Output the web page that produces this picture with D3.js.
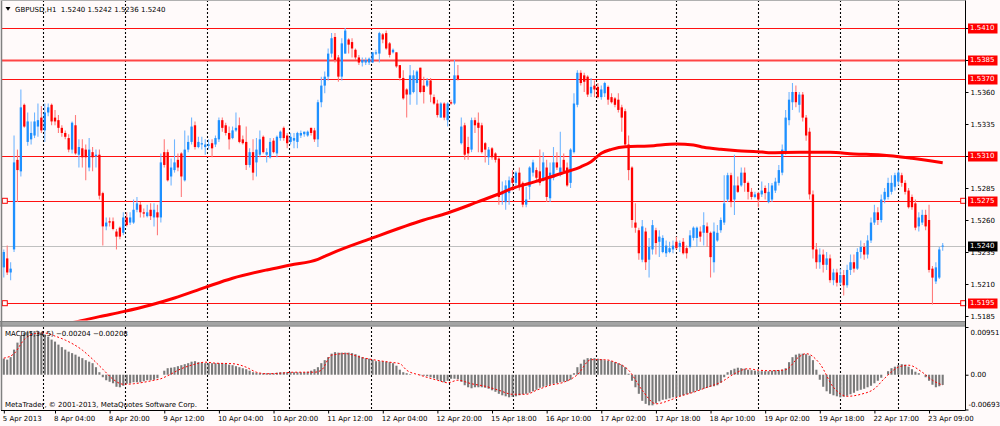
<!DOCTYPE html>
<html><head><meta charset="utf-8">
<script src="https://cdn.jsdelivr.net/npm/d3@7/dist/d3.min.js"></script>
<style>
html,body{margin:0;padding:0;background:#fffafa;}
svg{display:block;}
text{font-family:"DejaVu Sans",Verdana,sans-serif;font-size:7px;fill:#000;}
</style></head><body>
<svg id="chart" width="1000" height="426"></svg>
<script>
// ---------------- DATA ----------------
const symbolName = "GBPUSD,H1";
const indicatorName = "MACD(5,34,5)";
const copyright = "MetaTrader, \u00a9 2001-2013, MetaQuotes Software Corp.";

const opens = [1.5223,1.5230,1.5219,1.5237,1.5307,1.5298,1.5350,1.5321,1.5323,1.5326,
1.5333,1.5340,1.5330,1.5344,1.5350,1.5340,1.5338,1.5332,1.5328,1.5324,
1.5315,1.5334,1.5311,1.5316,1.5315,1.5301,1.5313,1.5310,1.5311,1.5281,
1.5255,1.5259,1.5259,1.5251,1.5254,1.5250,1.5262,1.5258,1.5258,1.5268,
1.5272,1.5266,1.5263,1.5268,1.5262,1.5266,1.5262,1.5313,1.5313,1.5294,
1.5299,1.5307,1.5312,1.5291,1.5315,1.5321,1.5334,1.5317,1.5319,1.5317,
1.5318,1.5320,1.5319,1.5323,1.5338,1.5334,1.5328,1.5324,1.5330,1.5334,
1.5323,1.5321,1.5303,1.5313,1.5305,1.5311,1.5325,1.5311,1.5309,1.5322,
1.5312,1.5324,1.5332,1.5326,1.5321,1.5322,1.5321,1.5326,1.5327,1.5326,
1.5332,1.5330,1.5323,1.5352,1.5365,1.5372,1.5390,1.5403,1.5387,1.5372,
1.5390,1.5401,1.5399,1.5393,1.5387,1.5383,1.5383,1.5383,1.5383,1.5390,
1.5390,1.5405,1.5406,1.5398,1.5391,1.5391,1.5381,1.5371,1.5362,1.5358,
1.5360,1.5367,1.5379,1.5365,1.5365,1.5369,1.5356,1.5351,1.5340,1.5351,
1.5338,1.5352,1.5351,1.5373,1.5320,1.5334,1.5317,1.5315,1.5338,1.5336,
1.5334,1.5320,1.5309,1.5316,1.5312,1.5308,1.5280,1.5274,1.5281,1.5293,
1.5289,1.5297,1.5289,1.5272,1.5286,1.5297,1.5299,1.5298,1.5291,1.5301,
1.5277,1.5293,1.5305,1.5297,1.5307,1.5301,1.5289,1.5313,1.5350,1.5375,
1.5373,1.5372,1.5359,1.5365,1.5364,1.5356,1.5359,1.5364,1.5356,1.5355,
1.5354,1.5348,1.5345,1.5319,1.5301,1.5258,1.5252,1.5229,1.5251,1.5229,
1.5237,1.5252,1.5243,1.5235,1.5234,1.5235,1.5237,1.5243,1.5239,1.5243,
1.5238,1.5239,1.5246,1.5246,1.5251,1.5250,1.5255,1.5250,1.5227,1.5244,
1.5252,1.5258,1.5276,1.5295,1.5276,1.5287,1.5287,1.5297,1.5289,1.5282,
1.5278,1.5281,1.5280,1.5285,1.5274,1.5276,1.5283,1.5289,1.5297,1.5313,
1.5338,1.5352,1.5360,1.5350,1.5358,1.5340,1.5329,1.5280,1.5237,1.5227,
1.5233,1.5225,1.5230,1.5213,1.5219,1.5211,1.5217,1.5209,1.5221,1.5227,
1.5222,1.5235,1.5239,1.5233,1.5244,1.5258,1.5266,1.5260,1.5276,1.5278,
1.5282,1.5286,1.5290,1.5295,1.5289,1.5283,1.5278,1.5273,1.5255,1.5258,
1.5264,1.5260,1.5222,1.5212,1.5215,1.5240];

const highs = [1.5237,1.5240,1.5227,1.5326,1.5315,1.5362,1.5351,1.5344,1.5337,1.5344,
1.5351,1.5349,1.5351,1.5351,1.5351,1.5346,1.5342,1.5334,1.5330,1.5327,
1.5337,1.5342,1.5323,1.5323,1.5319,1.5324,1.5317,1.5315,1.5315,1.5282,
1.5262,1.5262,1.5262,1.5253,1.5255,1.5266,1.5266,1.5266,1.5276,1.5278,
1.5274,1.5269,1.5272,1.5273,1.5273,1.5272,1.5312,1.5323,1.5315,1.5308,
1.5323,1.5312,1.5313,1.5330,1.5326,1.5340,1.5337,1.5325,1.5325,1.5323,
1.5323,1.5323,1.5326,1.5340,1.5340,1.5336,1.5333,1.5333,1.5344,1.5340,
1.5326,1.5333,1.5316,1.5323,1.5324,1.5330,1.5326,1.5316,1.5324,1.5324,
1.5326,1.5330,1.5333,1.5328,1.5328,1.5328,1.5329,1.5330,1.5329,1.5330,
1.5332,1.5332,1.5354,1.5372,1.5376,1.5394,1.5406,1.5406,1.5389,1.5402,
1.5410,1.5402,1.5402,1.5394,1.5389,1.5387,1.5387,1.5387,1.5391,1.5393,
1.5407,1.5406,1.5408,1.5399,1.5394,1.5391,1.5381,1.5377,1.5363,1.5381,
1.5377,1.5377,1.5379,1.5372,1.5371,1.5371,1.5358,1.5354,1.5352,1.5352,
1.5352,1.5354,1.5385,1.5381,1.5340,1.5336,1.5325,1.5340,1.5340,1.5344,
1.5336,1.5321,1.5317,1.5317,1.5313,1.5309,1.5290,1.5291,1.5294,1.5299,
1.5298,1.5301,1.5290,1.5286,1.5302,1.5307,1.5301,1.5315,1.5313,1.5307,
1.5305,1.5317,1.5313,1.5329,1.5312,1.5305,1.5316,1.5359,1.5377,1.5377,
1.5375,1.5373,1.5371,1.5369,1.5367,1.5365,1.5368,1.5365,1.5359,1.5356,
1.5359,1.5350,1.5347,1.5326,1.5302,1.5273,1.5254,1.5260,1.5254,1.5246,
1.5260,1.5254,1.5252,1.5248,1.5244,1.5243,1.5244,1.5247,1.5244,1.5246,
1.5240,1.5252,1.5255,1.5255,1.5255,1.5266,1.5258,1.5251,1.5258,1.5256,
1.5262,1.5295,1.5297,1.5297,1.5311,1.5294,1.5301,1.5301,1.5290,1.5285,
1.5282,1.5282,1.5290,1.5287,1.5289,1.5289,1.5293,1.5303,1.5319,1.5346,
1.5360,1.5367,1.5365,1.5360,1.5360,1.5342,1.5332,1.5283,1.5242,1.5238,
1.5237,1.5235,1.5233,1.5222,1.5222,1.5222,1.5221,1.5225,1.5233,1.5233,
1.5238,1.5244,1.5242,1.5248,1.5262,1.5272,1.5270,1.5280,1.5285,1.5293,
1.5295,1.5297,1.5299,1.5297,1.5291,1.5285,1.5280,1.5276,1.5266,1.5268,
1.5268,1.5272,1.5224,1.5227,1.5239,1.5242];

const lows = [1.5215,1.5217,1.5213,1.5235,1.5274,1.5294,1.5332,1.5318,1.5319,1.5324,
1.5325,1.5328,1.5321,1.5341,1.5334,1.5334,1.5328,1.5325,1.5323,1.5313,
1.5312,1.5311,1.5301,1.5301,1.5291,1.5298,1.5298,1.5301,1.5276,1.5240,
1.5252,1.5255,1.5252,1.5237,1.5245,1.5248,1.5255,1.5256,1.5257,1.5266,
1.5262,1.5262,1.5262,1.5260,1.5255,1.5248,1.5258,1.5301,1.5290,1.5287,
1.5297,1.5298,1.5278,1.5290,1.5313,1.5319,1.5315,1.5316,1.5315,1.5311,
1.5315,1.5309,1.5317,1.5321,1.5329,1.5326,1.5315,1.5323,1.5329,1.5320,
1.5319,1.5299,1.5301,1.5291,1.5294,1.5309,1.5312,1.5305,1.5308,1.5312,
1.5309,1.5322,1.5322,1.5316,1.5319,1.5316,1.5316,1.5324,1.5325,1.5325,
1.5326,1.5321,1.5317,1.5348,1.5359,1.5369,1.5387,1.5383,1.5368,1.5369,
1.5390,1.5390,1.5387,1.5385,1.5381,1.5380,1.5381,1.5381,1.5383,1.5389,
1.5383,1.5398,1.5393,1.5387,1.5390,1.5379,1.5369,1.5354,1.5340,1.5350,
1.5359,1.5350,1.5359,1.5351,1.5364,1.5352,1.5350,1.5340,1.5340,1.5338,
1.5333,1.5350,1.5350,1.5369,1.5319,1.5307,1.5307,1.5313,1.5328,1.5313,
1.5312,1.5305,1.5303,1.5307,1.5305,1.5272,1.5272,1.5268,1.5272,1.5283,
1.5286,1.5283,1.5270,1.5270,1.5276,1.5294,1.5291,1.5287,1.5290,1.5274,
1.5274,1.5291,1.5299,1.5294,1.5297,1.5286,1.5285,1.5312,1.5348,1.5365,
1.5360,1.5356,1.5356,1.5356,1.5355,1.5354,1.5356,1.5350,1.5351,1.5348,
1.5344,1.5329,1.5317,1.5291,1.5254,1.5250,1.5229,1.5227,1.5221,1.5215,
1.5233,1.5233,1.5231,1.5234,1.5231,1.5234,1.5234,1.5237,1.5235,1.5233,
1.5230,1.5238,1.5244,1.5239,1.5243,1.5240,1.5239,1.5215,1.5219,1.5243,
1.5250,1.5256,1.5274,1.5270,1.5264,1.5281,1.5286,1.5282,1.5276,1.5276,
1.5277,1.5270,1.5278,1.5276,1.5273,1.5274,1.5281,1.5287,1.5295,1.5311,
1.5334,1.5346,1.5348,1.5344,1.5337,1.5322,1.5276,1.5230,1.5222,1.5222,
1.5219,1.5221,1.5211,1.5209,1.5208,1.5209,1.5201,1.5207,1.5217,1.5219,
1.5221,1.5230,1.5229,1.5230,1.5242,1.5256,1.5256,1.5258,1.5273,1.5276,
1.5280,1.5283,1.5287,1.5286,1.5280,1.5269,1.5268,1.5252,1.5251,1.5256,
1.5252,1.5219,1.5194,1.5210,1.5214,1.5236];

const closes = [1.5235,1.5219,1.5222,1.5305,1.5299,1.5348,1.5333,1.5337,1.5328,1.5337,
1.5338,1.5330,1.5344,1.5348,1.5337,1.5337,1.5332,1.5328,1.5325,1.5315,
1.5336,1.5312,1.5317,1.5309,1.5309,1.5315,1.5309,1.5311,1.5279,1.5255,
1.5258,1.5258,1.5253,1.5247,1.5247,1.5262,1.5256,1.5262,1.5268,1.5273,
1.5266,1.5265,1.5266,1.5263,1.5268,1.5262,1.5305,1.5303,1.5291,1.5301,
1.5305,1.5301,1.5294,1.5315,1.5321,1.5333,1.5317,1.5321,1.5320,1.5319,
1.5319,1.5316,1.5324,1.5338,1.5332,1.5328,1.5323,1.5330,1.5332,1.5321,
1.5320,1.5303,1.5313,1.5297,1.5315,1.5323,1.5313,1.5313,1.5321,1.5313,
1.5325,1.5329,1.5324,1.5320,1.5325,1.5324,1.5328,1.5328,1.5329,1.5329,
1.5328,1.5323,1.5352,1.5365,1.5372,1.5390,1.5402,1.5385,1.5372,1.5398,
1.5408,1.5397,1.5394,1.5387,1.5383,1.5385,1.5385,1.5386,1.5391,1.5391,
1.5406,1.5401,1.5394,1.5389,1.5393,1.5380,1.5371,1.5355,1.5358,1.5373,
1.5373,1.5376,1.5360,1.5360,1.5369,1.5358,1.5351,1.5342,1.5351,1.5340,
1.5351,1.5351,1.5373,1.5370,1.5333,1.5311,1.5312,1.5338,1.5334,1.5332,
1.5313,1.5315,1.5315,1.5309,1.5307,1.5278,1.5282,1.5287,1.5291,1.5289,
1.5297,1.5287,1.5272,1.5276,1.5301,1.5305,1.5293,1.5289,1.5305,1.5278,
1.5297,1.5305,1.5301,1.5301,1.5298,1.5287,1.5315,1.5351,1.5375,1.5367,
1.5368,1.5358,1.5364,1.5362,1.5356,1.5362,1.5367,1.5354,1.5352,1.5350,
1.5346,1.5340,1.5319,1.5299,1.5260,1.5254,1.5234,1.5255,1.5227,1.5239,
1.5256,1.5242,1.5247,1.5246,1.5240,1.5238,1.5240,1.5238,1.5242,1.5234,
1.5234,1.5248,1.5254,1.5254,1.5247,1.5256,1.5250,1.5231,1.5251,1.5250,
1.5260,1.5273,1.5295,1.5274,1.5287,1.5282,1.5297,1.5289,1.5282,1.5278,
1.5280,1.5276,1.5283,1.5281,1.5282,1.5287,1.5290,1.5299,1.5315,1.5340,
1.5354,1.5360,1.5352,1.5358,1.5340,1.5326,1.5280,1.5237,1.5227,1.5233,
1.5225,1.5230,1.5213,1.5219,1.5211,1.5217,1.5209,1.5221,1.5227,1.5222,
1.5235,1.5239,1.5233,1.5244,1.5258,1.5266,1.5260,1.5276,1.5282,1.5289,
1.5289,1.5295,1.5297,1.5289,1.5282,1.5270,1.5270,1.5254,1.5262,1.5264,
1.5255,1.5221,1.5215,1.5223,1.5237,1.5240];

// Moving average (red thick line), sampled bars and values
const maBars = [14,21,28,35,43,50,59,67,77,84,92,96,108,123,130,139,145,149,154,159,164,169,172,175,178,182,189,197,202,205,210,215,221,224,233,242,249,257,266,275];
const maValues = [1.51770,1.51803,1.51845,1.51884,1.51936,1.51991,1.52074,1.52145,1.52210,1.52248,1.52293,1.52340,1.52460,1.52600,1.52655,1.52743,1.52803,1.52848,1.52887,1.52926,1.52970,1.53016,1.53055,1.53121,1.53152,1.53173,1.53178,1.53194,1.53186,1.53168,1.53152,1.53141,1.53134,1.53126,1.53129,1.53129,1.53116,1.53108,1.53082,1.53048];

// MACD main (histogram), one value per bar
const macdMain = [0.0032,0.0030,0.0035,0.0050,0.0064,0.0078,0.0084,0.0086,0.0087,0.0087,
0.0086,0.0084,0.0080,0.0076,0.0070,0.0066,0.0060,0.0055,0.0050,0.0046,
0.0043,0.0040,0.0036,0.0033,0.0029,0.0026,0.0023,0.0015,0.0005,-0.0005,
-0.0011,-0.0014,-0.0017,-0.0024,-0.0025,-0.0022,-0.0018,-0.0017,-0.0015,-0.0015,
-0.0015,-0.0013,-0.0011,-0.0011,-0.0010,-0.0007,0.0000,0.0008,0.0013,0.0014,
0.0015,0.0017,0.0019,0.0021,0.0023,0.0026,0.0027,0.0025,0.0024,0.0023,
0.0023,0.0023,0.0023,0.0023,0.0023,0.0022,0.0020,0.0019,0.0017,0.0015,
0.0013,0.0011,0.0008,0.0005,0.0004,0.0003,0.0003,0.0003,0.0003,0.0003,
0.0004,0.0005,0.0005,0.0005,0.0005,0.0005,0.0005,0.0005,0.0005,0.0006,
0.0008,0.0011,0.0015,0.0023,0.0029,0.0035,0.0042,0.0045,0.0044,0.0044,
0.0044,0.0044,0.0043,0.0041,0.0038,0.0035,0.0033,0.0032,0.0030,0.0027,
0.0027,0.0027,0.0026,0.0025,0.0023,0.0018,0.0010,0.0005,0.0003,0.0001,
0.0000,0.0000,-0.0001,-0.0002,-0.0003,-0.0005,-0.0007,-0.0010,-0.0013,-0.0015,
-0.0012,-0.0008,-0.0008,-0.0009,-0.0014,-0.0021,-0.0025,-0.0027,-0.0025,-0.0025,
-0.0025,-0.0026,-0.0028,-0.0031,-0.0034,-0.0038,-0.0041,-0.0043,-0.0045,-0.0044,
-0.0043,-0.0041,-0.0039,-0.0038,-0.0036,-0.0033,-0.0030,-0.0026,-0.0024,-0.0022,
-0.0020,-0.0018,-0.0017,-0.0015,-0.0014,-0.0013,-0.0010,0.0003,0.0015,0.0022,
0.0030,0.0033,0.0033,0.0033,0.0032,0.0031,0.0029,0.0028,0.0027,0.0025,
0.0023,0.0020,0.0015,0.0002,-0.0012,-0.0025,-0.0038,-0.0052,-0.0058,-0.0061,
-0.0061,-0.0057,-0.0053,-0.0050,-0.0049,-0.0047,-0.0045,-0.0044,-0.0043,-0.0041,
-0.0039,-0.0037,-0.0035,-0.0032,-0.0030,-0.0028,-0.0026,-0.0024,-0.0023,-0.0021,
-0.0016,-0.0005,0.0005,0.0009,0.0012,0.0014,0.0013,0.0012,0.0010,0.0009,
0.0008,0.0007,0.0007,0.0007,0.0007,0.0008,0.0009,0.0009,0.0010,0.0013,
0.0025,0.0035,0.0040,0.0042,0.0042,0.0041,0.0038,0.0029,0.0010,-0.0010,
-0.0024,-0.0033,-0.0038,-0.0041,-0.0043,-0.0045,-0.0044,-0.0042,-0.0039,-0.0036,
-0.0032,-0.0030,-0.0028,-0.0025,-0.0022,-0.0017,-0.0012,-0.0006,0.0000,0.0007,
0.0013,0.0016,0.0019,0.0021,0.0020,0.0016,0.0011,0.0006,0.0003,0.0000,
-0.0005,-0.0012,-0.0020,-0.0025,-0.0023,-0.00204];

// MACD signal line (red dotted), sampled bars and values
const signalBars = [0,3,6,9,12,15,18,23,26,29,32,35,38,41,44,46,48,52,56,59,62,67,71,74,77,81,85,91,93,96,100,105,109,113,116,118,122,127,130,133,137,141,145,149,153,156,160,164,168,172,176,179,183,187,191,195,198,202,206,210,214,218,221,225,229,233,235,239,243,247,251,255,258,262,265,269,272,275];
const signalValues = [0.0033,0.0042,0.0070,0.0082,0.0083,0.0077,0.0069,0.0049,0.0031,0.0011,
-0.0009,-0.0019,-0.0018,-0.0015,-0.0011,-0.0008,-0.0002,0.0012,0.0021,0.0025,
0.0023,0.0022,0.0015,0.0005,0.0002,0.0003,0.0005,0.0005,0.0009,0.0039,
0.0042,0.0034,0.0029,0.0025,0.0022,0.0009,-0.0001,-0.0011,-0.0016,-0.0011,
-0.0018,-0.0023,-0.0031,-0.0039,-0.0039,-0.0031,-0.0021,-0.0015,0.0000,0.0030,
0.0030,0.0025,0.0009,-0.0031,-0.0058,-0.0051,-0.0043,-0.0035,-0.0025,-0.0015,
0.0002,0.0012,0.0009,0.0008,0.0010,0.0036,0.0042,0.0022,-0.0025,-0.0043,
-0.0039,-0.0028,-0.0007,0.0015,0.0019,0.0005,-0.0011,-0.00208];

// Price levels
const priceTicks = [1.5410,1.5385,1.5360,1.5335,1.5310,1.5285,1.5260,1.5235,1.5210,1.5185];
const levelLines = [1.5410,1.5385,1.5370,1.5310,1.5275,1.5195];
const selectedLevels = [1.5275,1.5195];
const bidPrice = 1.5240;
const macdTicks = [0.00951,0,-0.00693];
const macdTickLabels = ["0.00951","0.00","-0.00693"];

// Time axis
const timeLabelBars = [0,15,31,47,63,79,95,111,127,143,159,175,191,207,223,239,255,271];
const timeLabels = ["5 Apr 2013","8 Apr 04:00","8 Apr 20:00","9 Apr 12:00","10 Apr 04:00","10 Apr 20:00","11 Apr 12:00","12 Apr 04:00","12 Apr 20:00","15 Apr 18:00","16 Apr 10:00","17 Apr 02:00","17 Apr 18:00","18 Apr 10:00","19 Apr 02:00","19 Apr 18:00","22 Apr 17:00","23 Apr 09:00"];
const daySeparatorBars = [11.5,35.5,59.5,83.5,107.5,130.5,149,173.5,197,221,245,262];

// ---------------- DRAWING ----------------
const W = 1000, H = 426;
const plotL = 2, plotR = 965.5;
const mainB = 320.5, macdT = 327, macdB = 410.5;
const bull = "#1e90ff", bear = "#ff0000", bullWick = "#72b6ff", bearWick = "#ff7c7c";

const svg = d3.select("#chart");
const n = closes.length;
const x = d3.scaleLinear().domain([0, 275]).range([3.8, 942.7]);
const y = d3.scaleLinear().domain([1.5410, 1.5185]).range([28, 316]);
const ym = d3.scaleLinear().domain([0.00951, -0.00693]).range([327, 409.5]);

svg.append("rect").attr("width", W).attr("height", H).attr("fill", "#fffafa");

const defs = svg.append("defs");
defs.append("clipPath").attr("id", "clipMain").append("rect")
  .attr("x", plotL).attr("y", 0).attr("width", plotR - plotL).attr("height", mainB);
defs.append("clipPath").attr("id", "clipMacd").append("rect")
  .attr("x", plotL).attr("y", macdT).attr("width", plotR - plotL).attr("height", macdB - macdT);

const gMain = svg.append("g").attr("clip-path", "url(#clipMain)");
const gMacd = svg.append("g").attr("clip-path", "url(#clipMacd)");

// day separators (dotted verticals)
[[gMain, 0, mainB], [gMacd, macdT, macdB]].forEach(([g, y1, y2]) => {
  g.append("g").selectAll("line").data(daySeparatorBars).join("line")
    .attr("x1", d => Math.round(x(d)) + 0.5).attr("x2", d => Math.round(x(d)) + 0.5)
    .attr("y1", y1).attr("y2", y2)
    .attr("stroke", "#000").attr("stroke-width", 1.1).attr("stroke-dasharray", "2,2");
});

// bid line
gMain.append("line").attr("x1", plotL).attr("x2", plotR)
  .attr("y1", Math.round(y(bidPrice)) + 0.5).attr("y2", Math.round(y(bidPrice)) + 0.5)
  .attr("stroke", "#c0c0c0").attr("stroke-width", 1);

// horizontal level lines
gMain.append("g").selectAll("line").data(levelLines).join("line")
  .attr("x1", plotL).attr("x2", plotR)
  .attr("y1", d => Math.round(y(d)) + 0.5).attr("y2", d => Math.round(y(d)) + 0.5)
  .attr("stroke", d => d === 1.5385 ? "#ff4545" : "#ff1010")
  .attr("stroke-width", d => d === 1.5385 ? 2 : 1.2);

// candles
const bars = d3.range(n).map(i => ({ i, o: opens[i], h: highs[i], l: lows[i], c: closes[i] }));
const cg = gMain.append("g");
cg.selectAll("line").data(bars).join("line")
  .attr("x1", d => x(d.i)).attr("x2", d => x(d.i))
  .attr("y1", d => y(d.h)).attr("y2", d => y(d.l))
  .attr("stroke", d => d.c >= d.o ? bullWick : bearWick).attr("stroke-width", 1.1);
cg.selectAll("rect").data(bars).join("rect")
  .attr("x", d => x(d.i) - 1.15).attr("width", 2.3)
  .attr("y", d => y(Math.max(d.o, d.c)))
  .attr("height", d => Math.max(1, Math.abs(y(d.o) - y(d.c))))
  .attr("fill", d => d.c >= d.o ? bull : bear);

// moving average
const maPts = maBars.map((b, k) => [b, maValues[k]]);
gMain.append("path").datum(maPts)
  .attr("d", d3.line().x(d => x(d[0])).y(d => y(d[1])).curve(d3.curveMonotoneX))
  .attr("fill", "none").attr("stroke", "#ff0000").attr("stroke-width", 3);

// selected level markers
selectedLevels.forEach(v => {
  [4.8, 963.2].forEach(mx => {
    svg.append("rect").attr("x", mx - 2.5).attr("y", y(v) - 2.5).attr("width", 5).attr("height", 5)
      .attr("fill", "#fffafa").attr("stroke", "#ff0000").attr("stroke-width", 1);
  });
});

// MACD histogram
gMacd.append("g").selectAll("rect").data(macdMain.map((v, i) => ({ i, v }))).join("rect")
  .attr("x", d => x(d.i) - 1.05).attr("width", 2.1)
  .attr("y", d => Math.min(ym(0), ym(d.v)))
  .attr("height", d => Math.abs(ym(d.v) - ym(0)))
  .attr("fill", "#7a7a7a");

// MACD signal
const sigPts = signalBars.map((b, k) => [b, signalValues[k]]);
gMacd.append("path").datum(sigPts)
  .attr("d", d3.line().x(d => x(d[0])).y(d => ym(d[1])).curve(d3.curveMonotoneX))
  .attr("fill", "none").attr("stroke", "#ff0000").attr("stroke-width", 1).attr("stroke-dasharray", "2,2");

// panel separator
svg.append("rect").attr("x", 0).attr("y", 321).attr("width", plotR).attr("height", 5.5).attr("fill", "#a4a4a4");
svg.append("line").attr("x1", 0).attr("x2", plotR).attr("y1", 321.5).attr("y2", 321.5).attr("stroke", "#808080");
svg.append("line").attr("x1", 0).attr("x2", plotR).attr("y1", 326).attr("y2", 326).attr("stroke", "#8a8a8a");

// frame lines
svg.append("line").attr("x1", 1.5).attr("x2", 1.5).attr("y1", 0).attr("y2", macdB).attr("stroke", "#808080").attr("stroke-width", 1.5);
svg.append("line").attr("x1", plotR).attr("x2", plotR).attr("y1", 0).attr("y2", macdB).attr("stroke", "#000");
svg.append("line").attr("x1", 1).attr("x2", plotR).attr("y1", macdB).attr("y2", macdB).attr("stroke", "#000");
svg.append("line").attr("x1", 1).attr("x2", plotR).attr("y1", 0.5).attr("y2", 0.5).attr("stroke", "#b0b0b0");

// price axis
const pAxis = svg.append("g").attr("transform", `translate(${plotR},0)`)
  .call(d3.axisRight(y).tickValues(priceTicks).tickSize(3).tickPadding(2).tickFormat(d3.format(".4f")));
pAxis.select(".domain").remove();
pAxis.selectAll("text").attr("font-size", 7).attr("font-family", "DejaVu Sans");

// MACD axis
const mAxis = svg.append("g").attr("transform", `translate(${plotR},0)`)
  .call(d3.axisRight(ym).tickValues(macdTicks).tickSize(3).tickPadding(2).tickFormat((d, i) => macdTickLabels[i]));
mAxis.select(".domain").remove();
mAxis.selectAll("text").attr("font-size", (d, i) => i === 2 ? 6.6 : 7).attr("font-family", "DejaVu Sans")
  .attr("x", (d, i) => i === 2 ? 3 : 5)
  .attr("dy", (d, i) => i === 0 ? "1.0em" : (i === 2 ? "-0.45em" : "0.32em"));

// time axis
const tAxis = svg.append("g").attr("transform", `translate(0,${macdB})`)
  .call(d3.axisBottom(x).tickValues(timeLabelBars).tickSize(3).tickFormat((d, i) => timeLabels[i]));
tAxis.select(".domain").remove();
tAxis.selectAll("text").attr("font-size", 7).attr("font-family", "DejaVu Sans")
  .attr("text-anchor", "start").attr("x", -1.5).attr("y", 6).attr("dy", "0.71em");

// level labels on the price axis
const lbl = svg.append("g");
levelLines.forEach(v => {
  const g = lbl.append("g").attr("transform", `translate(968,${Math.round(y(v))})`);
  g.append("rect").attr("x", 0).attr("y", -4.5).attr("width", 29.5).attr("height", 10).attr("fill", "#ff0000");
  g.append("text").attr("x", 2).attr("y", 0).attr("dy", "0.35em").style("fill", "#fff")
    .text(d3.format(".4f")(v));
});
{
  const g = lbl.append("g").attr("transform", `translate(968,${Math.round(y(bidPrice))})`);
  g.append("rect").attr("x", 0).attr("y", -4.5).attr("width", 29.5).attr("height", 10).attr("fill", "#000");
  g.append("text").attr("x", 2).attr("y", 0).attr("dy", "0.35em").style("fill", "#fff").text(d3.format(".4f")(bidPrice));
}

// title
svg.append("path").attr("d", "M5.5,7 L10.5,7 L8,10.8 Z").attr("fill", "#000");
const f4 = d3.format(".4f");
svg.append("text").attr("x", 15).attr("y", 11.6)
  .text(`${symbolName}\u00a0\u00a0${f4(opens[n-1])} ${f4(highs[n-1])} ${f4(lows[n-1])} ${f4(closes[n-1])}`);

// MACD label
const f5 = d3.format(".5f");
svg.append("text").attr("x", 5).attr("y", 336)
  .text(`${indicatorName} ${f5(macdMain[n-1])} ${f5(signalValues[signalValues.length-1])}`);

// copyright
svg.append("text").attr("x", 5).attr("y", 406.5).text(copyright);
</script>
</body></html>
